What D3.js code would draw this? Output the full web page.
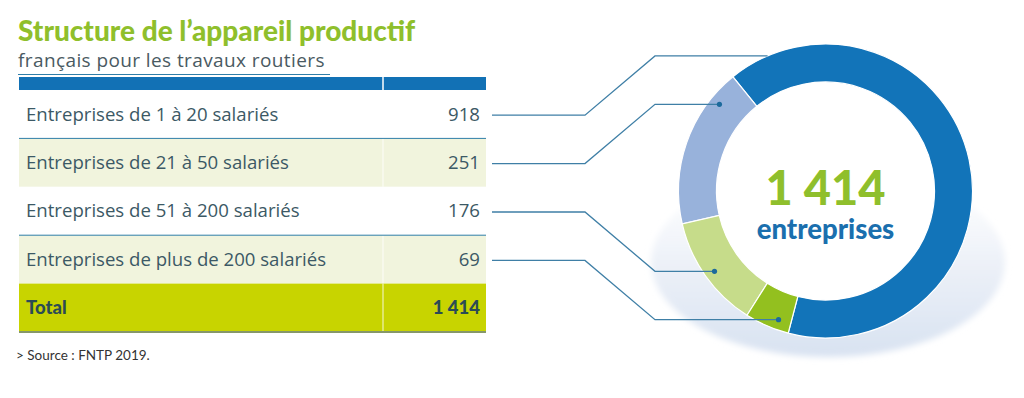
<!DOCTYPE html>
<html>
<head>
<meta charset="utf-8">
<script src="https://cdn.jsdelivr.net/npm/d3@7"></script>
<style>
  body { margin: 0; background: #fff; }
  svg { display: block; }
</style>
</head>
<body>
<svg id="chart" width="1024" height="398"></svg>
<script>
// data
var categories = ["Entreprises de 1 à 20 salariés", "Entreprises de 21 à 50 salariés",
                  "Entreprises de 51 à 200 salariés", "Entreprises de plus de 200 salariés"];
var values = [918, 251, 176, 69];
var sliceColors = ["#1274b9", "#98b2db", "#c6dc8a", "#93c01f"];
var totalLabel = "Total";
var centerLabel = "entreprises";
var title = "Structure de l\u2019appareil productif";
var subtitle = "français pour les travaux routiers";
var source = "> Source : FNTP 2019.";

var total = d3.sum(values);
var fmt = function(v) { return d3.format(",")(v).replace(/,/g, " "); };

var svg = d3.select("#chart");
var font = "Lato, 'Open Sans', sans-serif";
var bodyFont = "'Open Sans', Lato, sans-serif";

// title
svg.append("text")
    .attr("x", 18).attr("y", 41)
    .style("font-family", font).style("font-weight", 900).style("font-size", "28px")
    .style("fill", "#8fbf2c")
    .text(title);
svg.append("text")
    .attr("x", 18).attr("y", 66.5)
    .style("font-family", bodyFont).style("font-weight", 400).style("font-size", "19px")
    .style("letter-spacing", "0.4px")
    .style("fill", "#4a5a62")
    .text(subtitle);
svg.append("line")
    .attr("x1", 18).attr("x2", 330).attr("y1", 74.5).attr("y2", 74.5)
    .style("stroke", "#2f7ea8").style("stroke-width", 1.2);

// table
var tx0 = 19, tx1 = 486, tsplit = 383;
var rows = categories.map(function(c, i) { return {label: c, value: values[i], total: false}; });
rows.push({label: totalLabel, value: total, total: true});

var y = d3.scaleBand()
    .domain(d3.range(rows.length))
    .range([90, 332])
    .padding(0);

// header bar
svg.append("rect").attr("x", tx0).attr("y", 77).attr("width", tx1 - tx0).attr("height", 13)
    .style("fill", "#1271b5");
svg.append("line").attr("x1", tsplit).attr("x2", tsplit).attr("y1", 77).attr("y2", 90)
    .style("stroke", "#fff").style("stroke-width", 1.5);

var row = svg.selectAll("g.row").data(rows).enter().append("g")
    .attr("class", "row")
    .attr("transform", function(d, i) { return "translate(0," + y(i) + ")"; });

row.append("rect")
    .attr("x", tx0).attr("width", tx1 - tx0).attr("height", y.bandwidth())
    .style("fill", function(d, i) { return d.total ? "#c8d400" : (i % 2 ? "#f1f4dd" : "#fff"); });

row.filter(function(d, i) { return i % 2 || d.total; }).append("line")
    .attr("x1", tsplit).attr("x2", tsplit).attr("y1", 0).attr("y2", y.bandwidth())
    .style("stroke", "#fff").style("stroke-opacity", 0.7).style("stroke-width", 1.2);

row.filter(function(d, i) { return i % 2 == 1 && !d.total; }).append("line")
    .attr("x1", tx0).attr("x2", tx1).attr("y1", 0).attr("y2", 0)
    .style("stroke", "#2f7ea8").style("stroke-width", 1);

row.append("text")
    .attr("x", 26).attr("y", y.bandwidth() / 2 + 6.5)
    .style("font-family", function(d) { return d.total ? font : bodyFont; })
    .style("font-size", function(d) { return d.total ? "18.5px" : "18.6px"; })
    .style("font-weight", function(d) { return d.total ? 900 : 400; })
    .style("fill", function(d) { return d.total ? "#2b4b55" : "#3c5965"; })
    .text(function(d) { return d.label; });

row.append("text")
    .attr("x", 480).attr("y", y.bandwidth() / 2 + 6.5)
    .attr("text-anchor", "end")
    .style("font-family", function(d) { return d.total ? font : bodyFont; })
    .style("font-size", function(d) { return d.total ? "18.5px" : "18.6px"; })
    .style("font-weight", function(d) { return d.total ? 900 : 400; })
    .style("fill", function(d) { return d.total ? "#2b4b55" : "#3c5965"; })
    .text(function(d) { return fmt(d.value); });

svg.append("line").attr("x1", tx0).attr("x2", tx1).attr("y1", 332).attr("y2", 332)
    .style("stroke", "#86976a").style("stroke-width", 2);

svg.append("text")
    .attr("x", 16).attr("y", 360)
    .style("font-family", font).style("font-size", "13.5px").style("fill", "#333")
    .text(source);

// donut
var cx = 825.5, cy = 191, R = 147, r = 109;
var defs = svg.append("defs");
var grad = defs.append("linearGradient").attr("id", "shadow")
    .attr("x1", "0").attr("y1", "0").attr("x2", "0").attr("y2", "1");
grad.append("stop").attr("offset", "0%").attr("stop-color", "#f4f7fb").attr("stop-opacity", 0);
grad.append("stop").attr("offset", "50%").attr("stop-color", "#edf1f8").attr("stop-opacity", 1);
grad.append("stop").attr("offset", "100%").attr("stop-color", "#d8e2f1").attr("stop-opacity", 1);
var blur = defs.append("filter").attr("id", "soft").attr("x", "-20%").attr("y", "-20%")
    .attr("width", "140%").attr("height", "140%");
blur.append("feGaussianBlur").attr("stdDeviation", 3);

svg.append("ellipse")
    .attr("cx", 828).attr("cy", 262).attr("rx", 177).attr("ry", 95)
    .style("fill", "url(#shadow)").attr("filter", "url(#soft)");

svg.append("circle").attr("cx", cx).attr("cy", cy).attr("r", R).style("fill", "#fff");

var a0 = 194.7 * Math.PI / 180;
var pie = d3.pie().sort(null).startAngle(a0).endAngle(a0 - 2 * Math.PI);
var arc = d3.arc().innerRadius(r).outerRadius(R);
var arcs = pie(values);

var g = svg.append("g").attr("transform", "translate(" + cx + "," + cy + ")");

// leader lines
var dotR = 137;
var leaders = arcs.map(function(a, i) {
    var y0 = y(i) + y.bandwidth() / 2 + 1;
    var up = i < 2;
    var yFar = y0 + (up ? -59.3 : 59.3);
    var dy = yFar - cy;
    var xEnd = i == 0 ? cx - Math.sqrt(R * R - dy * dy) : cx - Math.sqrt(dotR * dotR - dy * dy);
    return {pts: [[492, y0], [585, y0], [655, yFar], [xEnd, yFar]], dot: i > 0, end: [xEnd, yFar]};
});

g.selectAll("path.slice").data(arcs).enter().append("path")
    .attr("class", "slice")
    .attr("d", arc)
    .style("fill", function(d, i) { return sliceColors[i]; })
    .style("stroke", "#fff").style("stroke-width", 1.2);

var line = d3.line();
svg.selectAll("path.leader").data(leaders).enter().append("path")
    .attr("class", "leader")
    .attr("d", function(d) { return line(d.pts); })
    .style("fill", "none").style("stroke", "#3f7fa6").style("stroke-width", 1.3);

svg.selectAll("circle.dot").data(leaders.filter(function(d) { return d.dot; })).enter()
    .append("circle").attr("class", "dot")
    .attr("cx", function(d) { return d.end[0]; }).attr("cy", function(d) { return d.end[1]; })
    .attr("r", 2.6).style("fill", "#1c6a9c");

// center label
svg.append("text")
    .attr("x", cx).attr("y", 205).attr("text-anchor", "middle")
    .style("font-family", font).style("font-weight", 900).style("font-size", "47px")
    .style("fill", "#8fbf2c")
    .text(fmt(total));
svg.append("text")
    .attr("x", cx).attr("y", 239).attr("text-anchor", "middle")
    .style("font-family", font).style("font-weight", 900).style("font-size", "27.5px")
    .style("fill", "#1a6fae")
    .text(centerLabel);
</script>
</body>
</html>
